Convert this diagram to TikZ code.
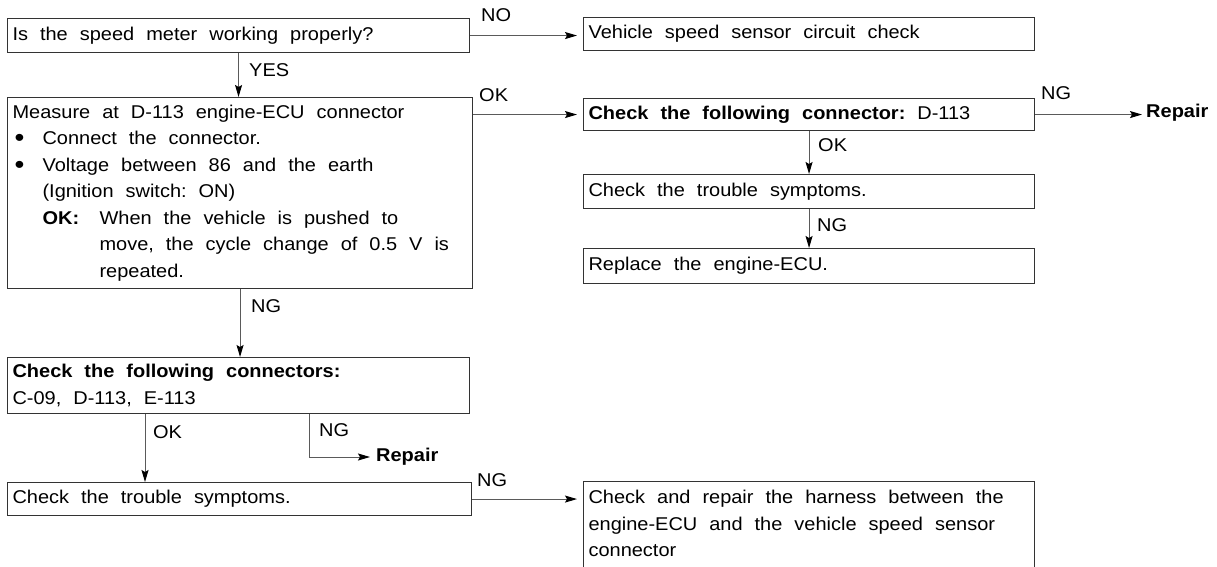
\documentclass[tikz,border=0pt]{standalone}
\usepackage{fontspec}
\setmainfont{Liberation Sans}[FakeStretch=1.08]
\usetikzlibrary{arrows.meta}
\newcommand{\mfs}{\fontsize{18.5pt}{26.5pt}\selectfont}
\newcommand{\ws}{\spaceskip=12pt\relax\xspaceskip=12pt\relax}
\newcommand{\bigdot}{\raisebox{-2pt}{\fontsize{26pt}{0pt}\selectfont\textbullet}}
\definecolor{boxc}{HTML}{333333}
\definecolor{linec}{HTML}{5A5A5A}
\tikzset{
  box/.style={draw=boxc, line width=1.1pt, rectangle, inner xsep=5pt, inner ysep=3pt,
              anchor=north west, font=\mfs},
  conn/.style={draw=linec, line width=1pt, -{Stealth[length=12pt,width=7pt,inset=2pt,color=black]}},
  lbl/.style={anchor=west, inner sep=0pt, font=\mfs},
  repairtxt/.style={anchor=west, inner sep=2pt, font=\mfs\bfseries}
}
\begin{document}
\begin{tikzpicture}[x=1pt,y=-1pt]
\useasboundingbox (0,0) rectangle (1217,567);
\clip (0,0) rectangle (1217,567);
% left column
\node[box, text width=452pt, minimum height=34pt] (b1) at (7,18) {\ws Is the speed meter working properly?};
\node[box, text width=455pt, minimum height=191pt] (b3) at (7,97) {\ws Measure at D-113 engine-ECU connector\\
\makebox[30pt][l]{\hspace*{2pt}\bigdot}Connect the connector.\\
\makebox[30pt][l]{\hspace*{2pt}\bigdot}Voltage between 86 and the earth\\
\hspace*{30pt}(Ignition switch: ON)\\
\hspace*{30pt}\makebox[57pt][l]{\textbf{OK:}}When the vehicle is pushed to\\
\hspace*{87pt}move, the cycle change of 0.5 V is\\
\hspace*{87pt}repeated.};
\node[box, text width=452pt, minimum height=56pt] (b4) at (7,357) {\ws\textbf{Check the following connectors:}\\C-09, D-113, E-113};
\node[box, text width=454pt, minimum height=33pt] (b5) at (7,482) {\ws Check the trouble symptoms.};
% right column
\node[box, text width=441pt, minimum height=33pt] (b2) at (583,17) {\ws Vehicle speed sensor circuit check};
\node[box, text width=441pt, minimum height=32pt] (b7) at (583,98) {\ws\textbf{Check the following connector:} D-113};
\node[box, text width=441pt, minimum height=34pt] (b8) at (583,174) {\ws Check the trouble symptoms.};
\node[box, text width=441pt, minimum height=35pt] (b9) at (583,248) {\ws Replace the engine-ECU.};
\node[box, text width=441pt, inner ysep=9pt] (b6) at (583,481) {\ws Check and repair the harness between the\\engine-ECU and the vehicle speed sensor\\connector\\\mbox{}};
% repair targets
\node[repairtxt] (r1) at (1144,113) {Repair};
\node[repairtxt] (r2) at (374,457) {Repair};
\coordinate (okx) at (145,0);
\coordinate (ngx) at (309,0);
% connectors
\draw[conn, shorten >=6pt] (b1.east) -- (b1.east -| b2.west);
\draw[conn] (b1.south) -- (b1.south |- b3.north);
\draw[conn, shorten >=6pt] (b3.east |- b7.west) -- (b7.west);
\draw[conn, shorten >=2pt] (b7.east) -- (b7.east -| r1.west);
\draw[conn] (b7.south) -- (b8.north);
\draw[conn] (b8.south) -- (b9.north);
\draw[conn] (b3.south) -- (b3.south |- b4.north);
\draw[conn] (b4.south -| okx) -- (b5.north -| okx);
\draw[conn, shorten >=4pt] (b4.south -| ngx) |- (r2.west);
\draw[conn, shorten >=6pt] (b5.east) -- (b5.east -| b6.west);
% labels
\node[lbl] (lno) at (481,15) {NO};
\node[lbl] (lyes) at (249,70) {YES};
\node[lbl] (lok1) at (479,95) {OK};
\node[lbl] (lng1) at (1041,93) {NG};
\node[lbl] (lok2) at (818,145) {OK};
\node[lbl] (lng2) at (817,225) {NG};
\node[lbl] (lng3) at (251,306) {NG};
\node[lbl] (lok3) at (153,432) {OK};
\node[lbl] (lng4) at (319,430) {NG};
\node[lbl] (lng5) at (477,480) {NG};
\end{tikzpicture}
\end{document}
